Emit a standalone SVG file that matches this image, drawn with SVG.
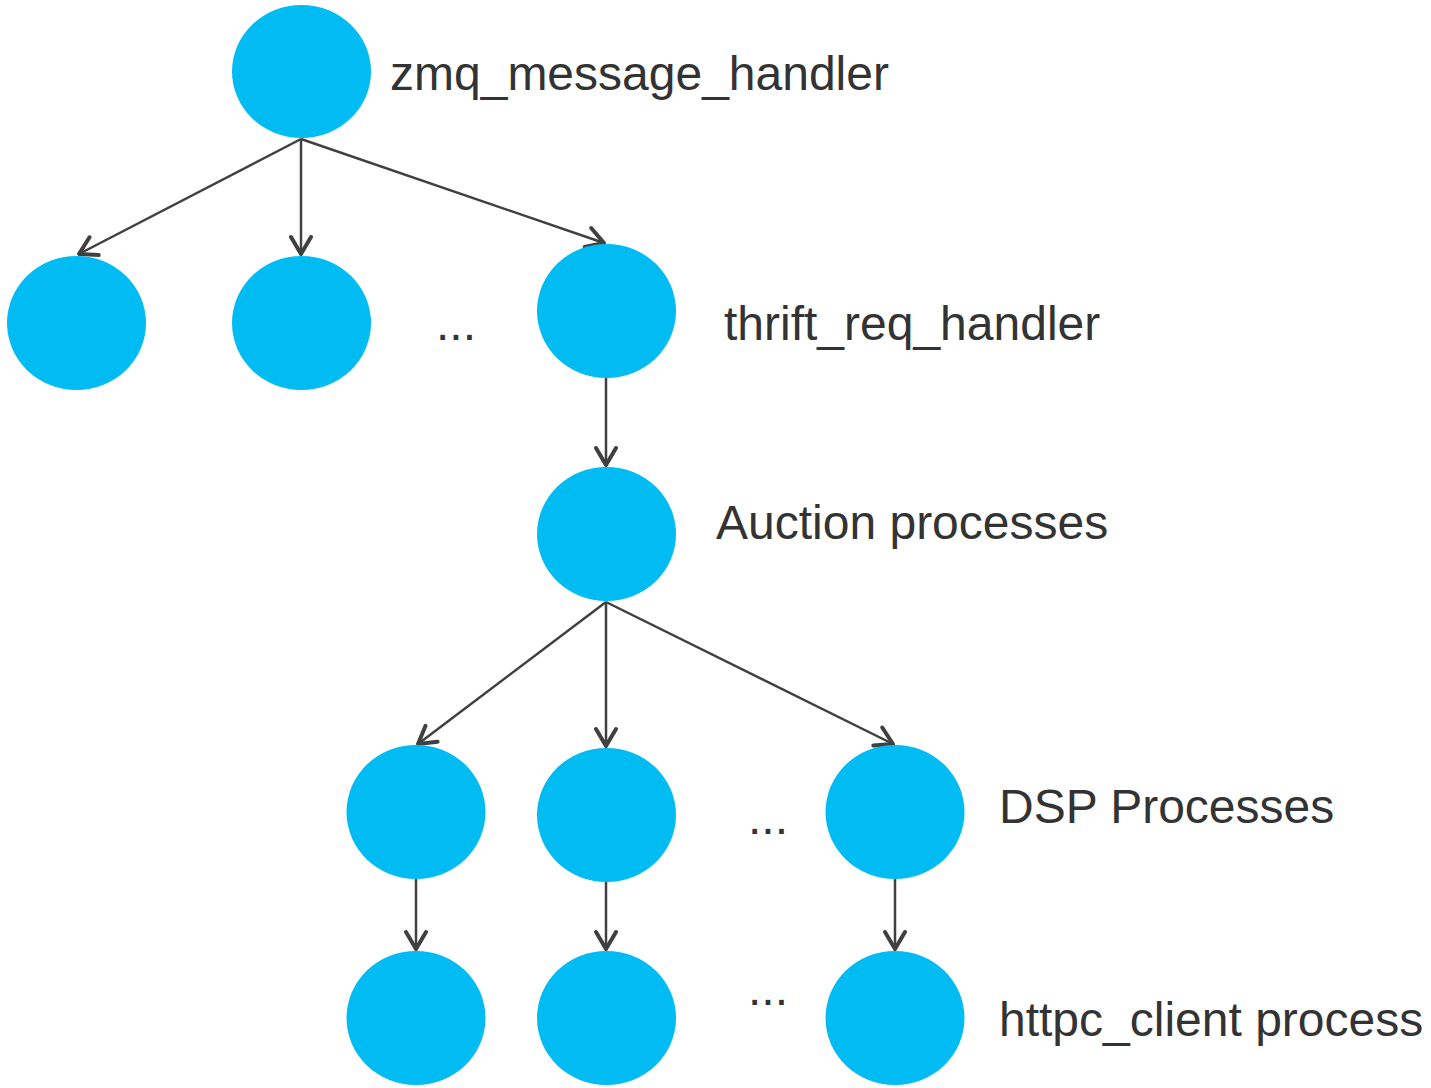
<svg xmlns="http://www.w3.org/2000/svg" width="1431" height="1088" viewBox="0 0 1431 1088">
<style>
.n{fill:#00BCF2}
.t{font-family:"Liberation Sans",Arial,sans-serif;font-size:48px;fill:#333333}
.c{stroke:#404040;stroke-width:2.5;fill:none}
</style>
<defs>
<marker id="ah" markerUnits="userSpaceOnUse" viewBox="-20 -13 22 26" markerWidth="22" markerHeight="26" refX="0" refY="0" orient="auto">
<path d="M-17,-10 L0,0 L-17,10" fill="none" stroke="#404040" stroke-width="4" stroke-linecap="round" stroke-linejoin="round"/>
</marker>
</defs>
<rect width="1431" height="1088" fill="#ffffff"/>
<g id="connectors" class="c" marker-end="url(#ah)">
<line x1="301" y1="139" x2="79" y2="254"/>
<line x1="301" y1="139" x2="301" y2="254"/>
<line x1="301" y1="139" x2="604" y2="243"/>
<line x1="606" y1="378" x2="606" y2="465"/>
<line x1="606" y1="602" x2="418" y2="744"/>
<line x1="606" y1="602" x2="606" y2="746"/>
<line x1="606" y1="602" x2="893" y2="744"/>
<line x1="416" y1="879" x2="416" y2="949"/>
<line x1="606" y1="882" x2="606" y2="949"/>
<line x1="895" y1="879" x2="895" y2="949"/>
</g>
<g id="zmq"><ellipse class="n" cx="301.5" cy="71.5" rx="69.5" ry="66.5"/><text class="t" x="390" y="90">zmq_message_handler</text></g>
<g id="r2a"><ellipse class="n" cx="76.5" cy="323" rx="69.5" ry="67"/></g>
<g id="r2b"><ellipse class="n" cx="301.5" cy="323" rx="69.5" ry="67"/></g>
<g id="r2dots"><text class="t" x="436" y="340">...</text></g>
<g id="thrift"><ellipse class="n" cx="606.5" cy="311" rx="69.5" ry="67"/><text class="t" x="724" y="340">thrift_req_handler</text></g>
<g id="auction"><ellipse class="n" cx="606.5" cy="534" rx="69.5" ry="67"/><text class="t" x="716" y="539">Auction processes</text></g>
<g id="dsp1"><ellipse class="n" cx="416" cy="812" rx="69.5" ry="67"/></g>
<g id="dsp2"><ellipse class="n" cx="606.5" cy="815" rx="69.5" ry="67"/></g>
<g id="dspdots"><text class="t" x="748" y="834">...</text></g>
<g id="dsp3"><ellipse class="n" cx="895" cy="812" rx="69.5" ry="67"/><text class="t" x="999" y="823">DSP Processes</text></g>
<g id="h1"><ellipse class="n" cx="416" cy="1018" rx="69.5" ry="67"/></g>
<g id="h2"><ellipse class="n" cx="606.5" cy="1018" rx="69.5" ry="67"/></g>
<g id="hdots"><text class="t" x="748" y="1005">...</text></g>
<g id="h3"><ellipse class="n" cx="895" cy="1018" rx="69.5" ry="67"/><text class="t" x="999" y="1036">httpc_client process</text></g>
</svg>
